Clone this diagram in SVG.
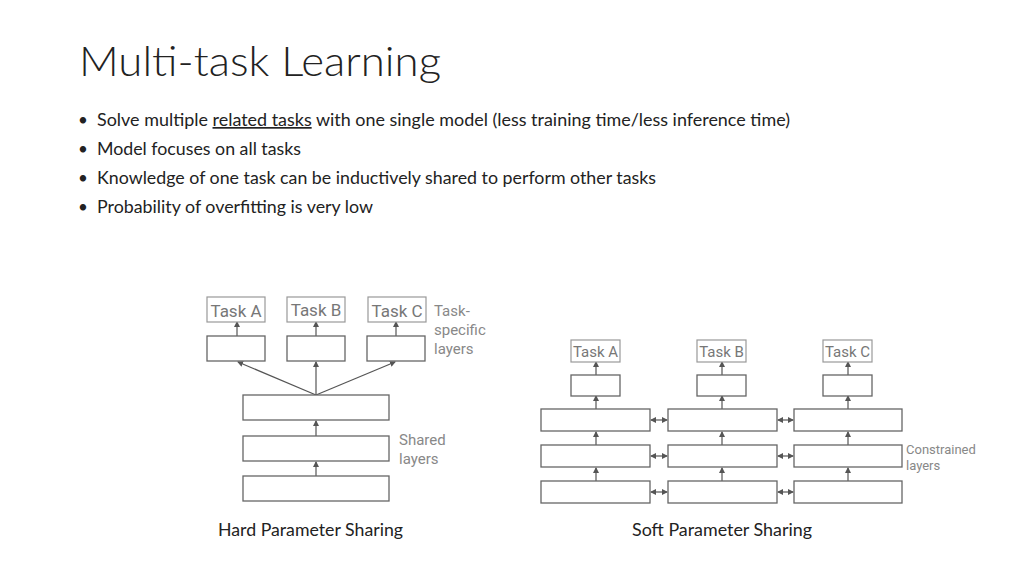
<svg xmlns="http://www.w3.org/2000/svg" width="1024" height="576" viewBox="0 0 1024 576">
<defs>
<marker id="ah" markerWidth="6" markerHeight="6" refX="5" refY="3" orient="auto-start-reverse" markerUnits="userSpaceOnUse"><path d="M0,0 L6,3 L0,6 z" fill="#555"/></marker>
<style>
.b{fill:#fff;stroke:#666;stroke-width:1.3}
.t{fill:#fff;stroke:#999;stroke-width:1.2}
.c{stroke:#555;stroke-width:1.2;fill:none;marker-end:url(#ah)}
.d{stroke:#555;stroke-width:1.2;fill:none;marker-end:url(#ah);marker-start:url(#ah)}
.tt{font-family:Roboto,"Liberation Sans",sans-serif;fill:#777;font-size:17px}
.ts{font-family:Roboto,"Liberation Sans",sans-serif;fill:#777;font-size:15px}
.lb{font-family:Roboto,"Liberation Sans",sans-serif;fill:#888;font-size:15px}
.lbs{font-family:Roboto,"Liberation Sans",sans-serif;fill:#888;font-size:13px}
.body{font-family:Lato,"Liberation Sans",sans-serif;fill:#222;font-size:17px}
.cap{font-family:Lato,"Liberation Sans",sans-serif;fill:#222;font-size:17px}
</style>
</defs>
<rect width="1024" height="576" fill="#fff"/>
<text x="79" y="76" font-family="Lato,'Liberation Sans',sans-serif" font-weight="300" font-size="42" fill="#222" textLength="362" lengthAdjust="spacingAndGlyphs">Multi-task Learning</text>
<g class="body">
<text x="78" y="126">•</text><text x="97" y="126" textLength="693" lengthAdjust="spacingAndGlyphs">Solve multiple <tspan text-decoration="underline">related tasks</tspan> with one single model (less training time/less inference time)</text>
<text x="78" y="155">•</text><text x="97" y="155" textLength="204" lengthAdjust="spacingAndGlyphs">Model focuses on all tasks</text>
<text x="78" y="184">•</text><text x="97" y="184" textLength="559" lengthAdjust="spacingAndGlyphs">Knowledge of one task can be inductively shared to perform other tasks</text>
<text x="78" y="213">•</text><text x="97" y="213" textLength="276" lengthAdjust="spacingAndGlyphs">Probability of overfitting is very low</text>
</g>
<g id="connectors">
<line class="c" x1="237" y1="336" x2="237" y2="322"/>
<line class="c" x1="316" y1="336" x2="316" y2="322"/>
<line class="c" x1="396" y1="336" x2="396" y2="322"/>
<line class="c" x1="316" y1="395" x2="238" y2="362"/>
<line class="c" x1="316" y1="395" x2="316" y2="362"/>
<line class="c" x1="316" y1="395" x2="395" y2="362"/>
<line class="c" x1="316" y1="436" x2="316" y2="421"/>
<line class="c" x1="316" y1="476" x2="316" y2="462"/>
<line class="c" x1="596" y1="375" x2="596" y2="362"/>
<line class="c" x1="722" y1="375" x2="722" y2="362"/>
<line class="c" x1="848" y1="375" x2="848" y2="362"/>
<line class="c" x1="596" y1="409" x2="596" y2="396"/>
<line class="c" x1="722" y1="409" x2="722" y2="396"/>
<line class="c" x1="848" y1="409" x2="848" y2="396"/>
<line class="c" x1="596" y1="445" x2="596" y2="432"/>
<line class="c" x1="722" y1="445" x2="722" y2="432"/>
<line class="c" x1="848" y1="445" x2="848" y2="432"/>
<line class="c" x1="596" y1="481" x2="596" y2="468"/>
<line class="c" x1="722" y1="481" x2="722" y2="468"/>
<line class="c" x1="848" y1="481" x2="848" y2="468"/>
<line class="d" x1="651" y1="420" x2="667" y2="420"/>
<line class="d" x1="778" y1="420" x2="793" y2="420"/>
<line class="d" x1="651" y1="456" x2="667" y2="456"/>
<line class="d" x1="778" y1="456" x2="793" y2="456"/>
<line class="d" x1="651" y1="492" x2="667" y2="492"/>
<line class="d" x1="778" y1="492" x2="793" y2="492"/>
</g>
<g id="hard">
<g id="hTaskA"><rect class="t" x="207" y="297" width="58" height="25"/><text class="tt" x="236" y="317" text-anchor="middle">Task A</text></g>
<g id="hTaskB"><rect class="t" x="287" y="297" width="58" height="25"/><text class="tt" x="316" y="316" text-anchor="middle">Task B</text></g>
<g id="hTaskC"><rect class="t" x="368" y="297" width="58" height="25"/><text class="tt" x="397" y="317" text-anchor="middle">Task C</text></g>
<g id="hSpecA"><rect class="b" x="207" y="336" width="58" height="25"/></g>
<g id="hSpecB"><rect class="b" x="287" y="336" width="58" height="25"/></g>
<g id="hSpecC"><rect class="b" x="367" y="336" width="58" height="25"/></g>
<g id="hShared1"><rect class="b" x="243" y="395" width="146" height="25"/></g>
<g id="hShared2"><rect class="b" x="243" y="436" width="146" height="25"/></g>
<g id="hShared3"><rect class="b" x="243" y="476" width="146" height="25"/></g>
<text class="lb" x="434" y="316">Task-</text><text class="lb" x="434" y="335">specific</text><text class="lb" x="434" y="354">layers</text>
<text class="lb" x="399" y="445">Shared</text><text class="lb" x="399" y="464">layers</text>
<text class="cap" x="218" y="536" textLength="185" lengthAdjust="spacingAndGlyphs">Hard Parameter Sharing</text>
</g>
<g id="soft">
<g id="sTaskA"><rect class="t" x="571" y="340" width="49" height="22"/><text class="ts" x="595.5" y="357" text-anchor="middle">Task A</text></g>
<g id="sTaskB"><rect class="t" x="697" y="340" width="49" height="22"/><text class="ts" x="721.5" y="357" text-anchor="middle">Task B</text></g>
<g id="sTaskC"><rect class="t" x="823" y="340" width="49" height="22"/><text class="ts" x="847.5" y="357" text-anchor="middle">Task C</text></g>
<rect class="b" x="571" y="375" width="49" height="21"/>
<rect class="b" x="697" y="375" width="49" height="21"/>
<rect class="b" x="823" y="375" width="49" height="21"/>
<rect class="b" x="541" y="409" width="109" height="22"/>
<rect class="b" x="668" y="409" width="109" height="22"/>
<rect class="b" x="794" y="409" width="108" height="22"/>
<rect class="b" x="541" y="445" width="109" height="22"/>
<rect class="b" x="668" y="445" width="109" height="22"/>
<rect class="b" x="794" y="445" width="108" height="22"/>
<rect class="b" x="541" y="481" width="109" height="22"/>
<rect class="b" x="668" y="481" width="109" height="22"/>
<rect class="b" x="794" y="481" width="108" height="22"/>
<text class="lbs" x="906" y="454">Constrained</text><text class="lbs" x="906" y="470">layers</text>
<text class="cap" x="632" y="536" textLength="180" lengthAdjust="spacingAndGlyphs">Soft Parameter Sharing</text>
</g>
</svg>
